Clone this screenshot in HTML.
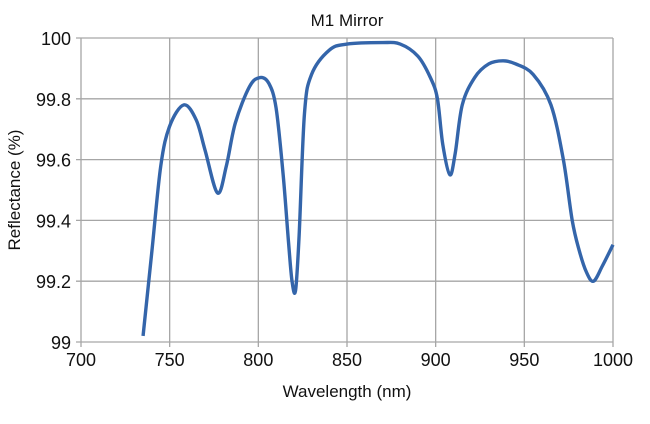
<!DOCTYPE html>
<html><head><meta charset="utf-8"><style>
body{margin:0;background:#fff;}
svg{display:block;font-family:"Liberation Sans",sans-serif;}
</style></head><body>
<svg id="chart" width="650" height="424">
<text x="347" y="26" font-size="17" text-anchor="middle" fill="#111">M1 Mirror</text>
<g id="grid"></g><g id="ticks"></g>
<path id="line" fill="none" stroke="#3465aa" stroke-width="3.4" stroke-linejoin="round"></path>
<text x="347" y="397" font-size="17" text-anchor="middle" fill="#111">Wavelength (nm)</text>
<text transform="translate(20,190) rotate(-90)" font-size="17" text-anchor="middle" fill="#111">Reflectance (%)</text>
</svg>
<script>
const wavelengths=[735,740,745,750,758,765,770,777,782,787,795,801,806,810,814,817,819,821,823,826,830,840,850,870,880,890,897,901,904,908,911,915,922,930,938,945,955,965,972,977,981,985,989,994,1000];
const reflectance=[99.02,99.3,99.58,99.71,99.78,99.73,99.63,99.49,99.58,99.72,99.84,99.87,99.85,99.77,99.55,99.33,99.2,99.17,99.35,99.75,99.88,99.96,99.98,99.985,99.98,99.94,99.87,99.8,99.65,99.55,99.62,99.78,99.87,99.915,99.925,99.915,99.88,99.78,99.6,99.4,99.3,99.23,99.2,99.25,99.32];
const xTicks=[700,750,800,850,900,950,1000];
const yTicks=[99,99.2,99.4,99.6,99.8,100];
const yTickLabels=["99","99.2","99.4","99.6","99.8","100"];
const X0=81,X1=613,Y0=342,Y1=38;
const xs=v=>X0+(v-700)/300*(X1-X0);
const ys=v=>Y0-(v-99)/1*(Y0-Y1);
const NS="http://www.w3.org/2000/svg";
const grid=document.getElementById('grid'),ticks=document.getElementById('ticks');
xTicks.forEach(t=>{
 const l=document.createElementNS(NS,'line');
 l.setAttribute('x1',xs(t));l.setAttribute('x2',xs(t));l.setAttribute('y1',Y1);l.setAttribute('y2',Y0+5);
 l.setAttribute('stroke','#a6a6a6');l.setAttribute('stroke-width','1.3');
 
 
 grid.appendChild(l);
 const tx=document.createElementNS(NS,'text');
 tx.setAttribute('x',xs(t));tx.setAttribute('y',Y0+24);tx.setAttribute('font-size','18');tx.setAttribute('text-anchor','middle');tx.setAttribute('fill','#111');
 tx.textContent=t;
 
 
 ticks.appendChild(tx);
});
yTicks.forEach((t,i)=>{
 const l=document.createElementNS(NS,'line');
 l.setAttribute('x1',X0-5);l.setAttribute('x2',X1);l.setAttribute('y1',ys(t));l.setAttribute('y2',ys(t));
 l.setAttribute('stroke','#a6a6a6');l.setAttribute('stroke-width','1.3');
 
 
 grid.appendChild(l);
 const tx=document.createElementNS(NS,'text');
 tx.setAttribute('x',X0-10);tx.setAttribute('y',ys(t)+7);tx.setAttribute('font-size','18');tx.setAttribute('text-anchor','end');tx.setAttribute('fill','#111');
 tx.textContent=yTickLabels[i];
 
 
 ticks.appendChild(tx);
});
const P=wavelengths.map((w,i)=>[xs(w),ys(reflectance[i])]);
let d='M'+P[0][0]+','+P[0][1];
for(let i=0;i<P.length-1;i++){
 const p0=P[Math.max(0,i-1)],p1=P[i],p2=P[i+1],p3=P[Math.min(P.length-1,i+2)];
 const k=6;
 d+=' C'+(p1[0]+(p2[0]-p0[0])/k)+','+(p1[1]+(p2[1]-p0[1])/k)+' '+(p2[0]-(p3[0]-p1[0])/k)+','+(p2[1]-(p3[1]-p1[1])/k)+' '+p2[0]+','+p2[1];
}
document.getElementById('line').setAttribute('d',d);
</script>
</body></html>
